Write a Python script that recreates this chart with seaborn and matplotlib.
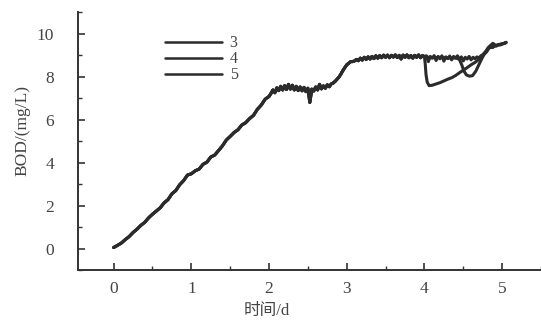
import numpy as np
import pandas as pd
import matplotlib
matplotlib.use("Agg")
import matplotlib.pyplot as plt
import seaborn as sns
from matplotlib.ticker import MultipleLocator

# ---- data ----
base_t = [0.00, 0.05, 0.10, 0.15, 0.20, 0.25, 0.30, 0.35, 0.40, 0.45,
          0.50, 0.55, 0.60, 0.65, 0.70, 0.75, 0.80, 0.85, 0.90, 0.95,
          1.00, 1.05, 1.10, 1.15, 1.20, 1.25, 1.30, 1.35, 1.40, 1.45,
          1.50, 1.55, 1.60, 1.65, 1.70, 1.75, 1.80, 1.85, 1.90, 1.95, 2.00]
base_y = [0.05, 0.15, 0.26, 0.42, 0.56, 0.75, 0.90, 1.08, 1.22, 1.43,
          1.60, 1.75, 1.90, 2.13, 2.28, 2.55, 2.70, 2.97, 3.16, 3.42,
          3.48, 3.62, 3.70, 3.92, 4.02, 4.26, 4.35, 4.56, 4.78, 5.05,
          5.22, 5.40, 5.53, 5.75, 5.86, 6.05, 6.20, 6.48, 6.68, 6.95, 7.08]

mid_t = [2.025, 2.05, 2.075, 2.10, 2.125, 2.15, 2.175, 2.20, 2.225, 2.25,
         2.275, 2.30, 2.325, 2.35, 2.375, 2.40, 2.425, 2.45, 2.475, 2.50,
         2.525, 2.55, 2.575, 2.60, 2.625, 2.65, 2.675, 2.70, 2.725, 2.75,
         2.775, 2.80, 2.825, 2.85, 2.875, 2.90, 2.925, 2.95, 2.975, 3.00,
         3.025, 3.05, 3.075, 3.10, 3.125, 3.15, 3.175, 3.20, 3.225, 3.25,
         3.275, 3.30, 3.325, 3.35, 3.375, 3.40, 3.425, 3.45, 3.475, 3.50,
         3.525, 3.55, 3.575, 3.60, 3.625, 3.65, 3.675, 3.70, 3.725, 3.75,
         3.775, 3.80, 3.825, 3.85, 3.875, 3.90, 3.925, 3.95, 3.975, 4.00]
mid_y = [7.22, 7.38, 7.25, 7.48, 7.35, 7.55, 7.38, 7.58, 7.40, 7.64,
         7.42, 7.60, 7.38, 7.55, 7.35, 7.52, 7.34, 7.50, 7.30, 7.46,
         6.80, 7.42, 7.33, 7.52, 7.38, 7.64, 7.43, 7.57, 7.46, 7.62,
         7.53, 7.66, 7.70, 7.78, 7.88, 7.98, 8.12, 8.28, 8.42, 8.55,
         8.62, 8.70, 8.70, 8.73, 8.80, 8.74, 8.86, 8.77, 8.90, 8.80,
         8.92, 8.82, 8.94, 8.84, 8.97, 8.86, 8.98, 8.88, 9.00, 8.90,
         9.00, 8.88, 8.99, 8.91, 9.01, 8.89, 8.99, 8.82, 9.00, 8.90,
         9.01, 8.88, 8.98, 8.86, 8.99, 8.90, 9.01, 8.88, 8.98, 8.93]

tail3_t = [4.025, 4.05, 4.075, 4.10, 4.125, 4.15, 4.175, 4.20, 4.225, 4.25,
           4.275, 4.30, 4.325, 4.35, 4.375, 4.40, 4.425, 4.45, 4.475, 4.50,
           4.525, 4.55, 4.575, 4.60, 4.625, 4.65, 4.675, 4.70, 4.725, 4.75,
           4.775, 4.80, 4.825, 4.85, 4.875, 4.90, 4.925, 4.95, 4.975, 5.00,
           5.025, 5.05]
tail3_y = [8.97, 8.70, 8.94, 8.86, 8.98, 8.75, 8.94, 8.83, 8.97, 8.72,
           8.92, 8.84, 8.96, 8.78, 8.94, 8.86, 8.97, 8.80, 8.92, 8.73,
           8.90, 8.82, 8.94, 8.78, 8.90, 8.83, 8.92, 8.86, 8.97, 9.02,
           9.12, 9.20, 9.32, 9.36, 9.37, 9.43, 9.42, 9.48, 9.47, 9.53,
           9.54, 9.60]

tail4_t = [4.01, 4.02, 4.035, 4.06, 4.10, 4.15, 4.20, 4.25, 4.30, 4.35,
           4.40, 4.45, 4.50, 4.55, 4.60, 4.65, 4.70, 4.75, 4.80, 4.825,
           4.85, 4.875, 4.90, 4.95, 5.00, 5.05]
tail4_y = [8.60, 8.10, 7.75, 7.58, 7.60, 7.66, 7.72, 7.80, 7.88, 7.95,
           8.05, 8.18, 8.30, 8.42, 8.55, 8.66, 8.80, 8.98, 9.15, 9.30,
           9.42, 9.35, 9.42, 9.48, 9.52, 9.58]

tail5_t = [4.10, 4.20, 4.30, 4.40, 4.45, 4.48, 4.51, 4.54, 4.58, 4.62,
           4.66, 4.70, 4.74, 4.78, 4.82, 4.86, 4.88, 4.92, 4.96, 5.00, 5.05]
tail5_y = [8.88, 8.90, 8.86, 8.88, 8.80, 8.55, 8.25, 8.08, 8.02, 8.05,
           8.25, 8.55, 8.85, 9.12, 9.35, 9.48, 9.55, 9.45, 9.50, 9.52, 9.58]

series_labels = ["3", "4", "5"]
tails = {"3": (tail3_t, tail3_y), "4": (tail4_t, tail4_y), "5": (tail5_t, tail5_y)}

x_ticks = [0, 1, 2, 3, 4, 5]
y_ticks = [0, 2, 4, 6, 8, 10]
x_label = "时间/d"
y_label = "BOD/(mg/L)"

rows = []
for lab in series_labels:
    tt = base_t + mid_t + tails[lab][0]
    yy = base_y + mid_y + tails[lab][1]
    for i, (a, b) in enumerate(zip(tt, yy)):
        rows.append({"t": a, "bod": b, "series": lab, "order": i})
df = pd.DataFrame(rows)

# ---- plot ----
sns.set_style("ticks")
plt.rcParams["font.family"] = ["Liberation Serif", "Noto Sans CJK SC"]
ink = "#2b2b2b"
txt = "#444444"

fig = plt.figure(figsize=(5.41, 3.2), dpi=100)
ax = fig.add_axes([0.144, 0.156, 0.856, 0.806])

sns.lineplot(data=df, x="t", y="bod", hue="series",
             sort=False, estimator=None, palette=[ink] * 3,
             linewidth=2.2, ax=ax, legend=True)

ax.set_xlim(-0.46, 5.5)
ax.set_ylim(-1.0, 11.0)
ax.set_xticks(x_ticks)
ax.set_yticks(y_ticks)
ax.xaxis.set_minor_locator(MultipleLocator(0.5))
ax.yaxis.set_minor_locator(MultipleLocator(1))
ax.tick_params(which="major", direction="in", length=5, width=1.2,
               color="#333333", labelsize=12.5, labelcolor=txt)
ax.tick_params(which="minor", direction="in", length=3, width=1.0, color="#333333")
ax.tick_params(axis="y", which="major", pad=17)
ax.tick_params(axis="x", which="major", pad=8)

sns.despine(ax=ax)
for s in ["left", "bottom"]:
    ax.spines[s].set_color("#333333")
    ax.spines[s].set_linewidth(1.4)

ax.set_xlabel(x_label, fontsize=12, color=txt, labelpad=4, x=0.408)
ax.set_ylabel(y_label, fontsize=12.5, color=txt, labelpad=5, y=0.54)

leg = ax.legend(loc="upper left", bbox_to_anchor=(0.188, 0.91), frameon=False,
                handlelength=3.6, handletextpad=0.45, labelspacing=0.0,
                borderpad=0, borderaxespad=0, fontsize=11.5)
for t in leg.get_texts():
    t.set_color(txt)
for h in leg.get_lines():
    h.set_linewidth(1.8)

fig.savefig("out.png", dpi=100)
